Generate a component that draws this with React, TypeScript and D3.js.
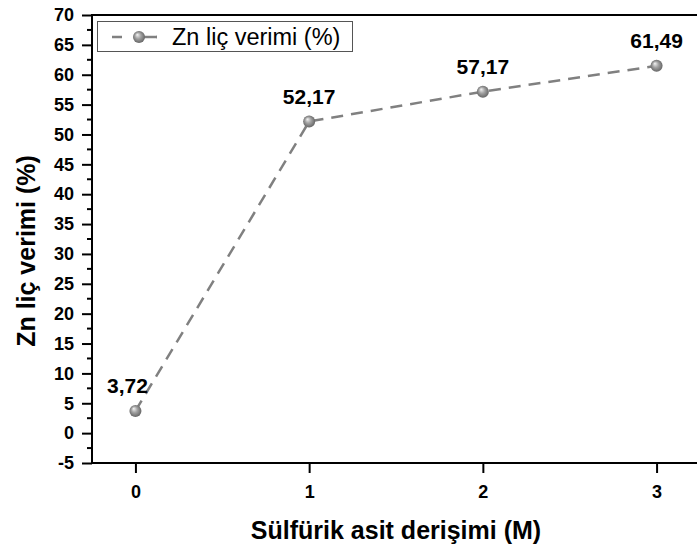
import { useEffect, useRef } from "react";
import * as d3 from "d3";

const concentrations = [0, 1, 2, 3];
const zincYield = [3.72, 52.17, 57.17, 61.49];
const pointLabels = ["3,72", "52,17", "57,17", "61,49"];
const yTickValues = [-5, 0, 5, 10, 15, 20, 25, 30, 35, 40, 45, 50, 55, 60, 65, 70];
const yMinorValues = [-2.5, 2.5, 7.5, 12.5, 17.5, 22.5, 27.5, 32.5, 37.5, 42.5, 47.5, 52.5, 57.5, 62.5, 67.5];
const xTickValues = [0, 1, 2, 3];
const seriesName = "Zn liç verimi (%)";
const xTitle = "Sülfürik asit derişimi (M)";
const yTitle = "Zn liç verimi (%)";

const FONT = "'Liberation Sans', Arial, Helvetica, sans-serif";

export default function App() {
  const ref = useRef<SVGSVGElement>(null);
  const width = 697;
  const height = 550;

  useEffect(() => {
    if (!ref.current) return;
    const svg = d3.select(ref.current);
    svg.selectAll("*").remove();

    const left = 92;
    const right = 700;
    const top = 15;
    const bottom = 463;

    const x = d3.scaleLinear().domain([-0.25, 3.25]).range([left, right]);
    const y = d3.scaleLinear().domain([-5, 70]).range([bottom, top]);

    // sphere marker gradient
    const grad = svg
      .append("defs")
      .append("radialGradient")
      .attr("id", "ball")
      .attr("cx", "50%")
      .attr("cy", "50%")
      .attr("r", "55%")
      .attr("fx", "35%")
      .attr("fy", "30%");
    grad.append("stop").attr("offset", "0%").attr("stop-color", "#f4f4f4");
    grad.append("stop").attr("offset", "45%").attr("stop-color", "#a3a3a3");
    grad.append("stop").attr("offset", "100%").attr("stop-color", "#5e5e5e");

    // y axis
    const yAxis = svg
      .append("g")
      .attr("transform", `translate(${left},0)`)
      .call(
        d3
          .axisLeft(y)
          .tickValues(yTickValues)
          .tickSize(10)
          .tickPadding(8)
          .tickFormat((d) => String(d))
      );
    yAxis.select(".domain").remove();
    yAxis.selectAll(".tick line").attr("stroke", "#000").attr("stroke-width", 2);
    yAxis
      .selectAll(".tick text")
      .attr("fill", "#000")
      .style("font-family", FONT)
      .style("font-weight", "bold")
      .style("font-size", "18px");

    // minor ticks
    svg
      .append("g")
      .selectAll("line")
      .data(yMinorValues)
      .join("line")
      .attr("x1", left - 5)
      .attr("x2", left)
      .attr("y1", (d) => y(d))
      .attr("y2", (d) => y(d))
      .attr("stroke", "#000")
      .attr("stroke-width", 2);

    // x axis
    const xAxis = svg
      .append("g")
      .attr("transform", `translate(0,${bottom})`)
      .call(
        d3
          .axisBottom(x)
          .tickValues(xTickValues)
          .tickSize(10)
          .tickPadding(12)
          .tickFormat((d) => String(d))
      );
    xAxis.select(".domain").remove();
    xAxis.selectAll(".tick line").attr("stroke", "#000").attr("stroke-width", 2);
    xAxis
      .selectAll(".tick text")
      .attr("fill", "#000")
      .style("font-family", FONT)
      .style("font-weight", "bold")
      .style("font-size", "18px");

    // frame
    svg
      .append("rect")
      .attr("x", left)
      .attr("y", top)
      .attr("width", right - left)
      .attr("height", bottom - top)
      .attr("fill", "none")
      .attr("stroke", "#000")
      .attr("stroke-width", 2);

    // series line
    const pts = concentrations.map((c, i) => [c, zincYield[i]] as [number, number]);
    const line = d3
      .line<[number, number]>()
      .x((d) => x(d[0]))
      .y((d) => y(d[1]));
    svg
      .append("path")
      .attr("d", line(pts))
      .attr("fill", "none")
      .attr("stroke", "#808080")
      .attr("stroke-width", 2.5)
      .attr("stroke-dasharray", "12,8");

    svg
      .append("g")
      .selectAll("circle")
      .data(pts)
      .join("circle")
      .attr("cx", (d) => x(d[0]))
      .attr("cy", (d) => y(d[1]))
      .attr("r", 6)
      .attr("fill", "url(#ball)");

    // value labels
    svg
      .append("g")
      .selectAll("text")
      .data(pts)
      .join("text")
      .attr("x", (d, i) => x(d[0]) + (i === 0 ? -8 : 0))
      .attr("y", (d) => y(d[1]) - 18)
      .attr("text-anchor", "middle")
      .style("font-family", FONT)
      .style("font-weight", "bold")
      .style("font-size", "21px")
      .text((_, i) => pointLabels[i]);

    // legend
    const lg = svg.append("g");
    lg.append("rect")
      .attr("x", 97.5)
      .attr("y", 21.5)
      .attr("width", 255)
      .attr("height", 30)
      .attr("fill", "#fff")
      .attr("stroke", "#555")
      .attr("stroke-width", 1);
    lg.append("line")
      .attr("x1", 112)
      .attr("x2", 157)
      .attr("y1", 37)
      .attr("y2", 37)
      .attr("stroke", "#808080")
      .attr("stroke-width", 2.5)
      .attr("stroke-dasharray", "10,12");
    lg.append("line")
      .attr("x1", 139)
      .attr("x2", 157)
      .attr("y1", 37)
      .attr("y2", 37)
      .attr("stroke", "#808080")
      .attr("stroke-width", 2.5);
    lg.append("circle").attr("cx", 139).attr("cy", 37).attr("r", 6).attr("fill", "url(#ball)");
    lg.append("text")
      .attr("x", 172)
      .attr("y", 45)
      .style("font-family", FONT)
      .style("font-size", "23.5px")
      .text(seriesName);

    // axis titles
    svg
      .append("text")
      .attr("x", (left + right) / 2)
      .attr("y", 539)
      .attr("text-anchor", "middle")
      .style("font-family", FONT)
      .style("font-weight", "bold")
      .style("font-size", "25px")
      .text(xTitle);
    svg
      .append("text")
      .attr("transform", `translate(35,${(top + bottom) / 2 + 12}) rotate(-90)`)
      .attr("text-anchor", "middle")
      .style("font-family", FONT)
      .style("font-weight", "bold")
      .style("font-size", "25px")
      .text(yTitle);
  }, []);

  return (
    <svg
      ref={ref}
      width={width}
      height={height}
      style={{ position: "absolute", left: 0, top: 0, background: "#fff" }}
    />
  );
}
